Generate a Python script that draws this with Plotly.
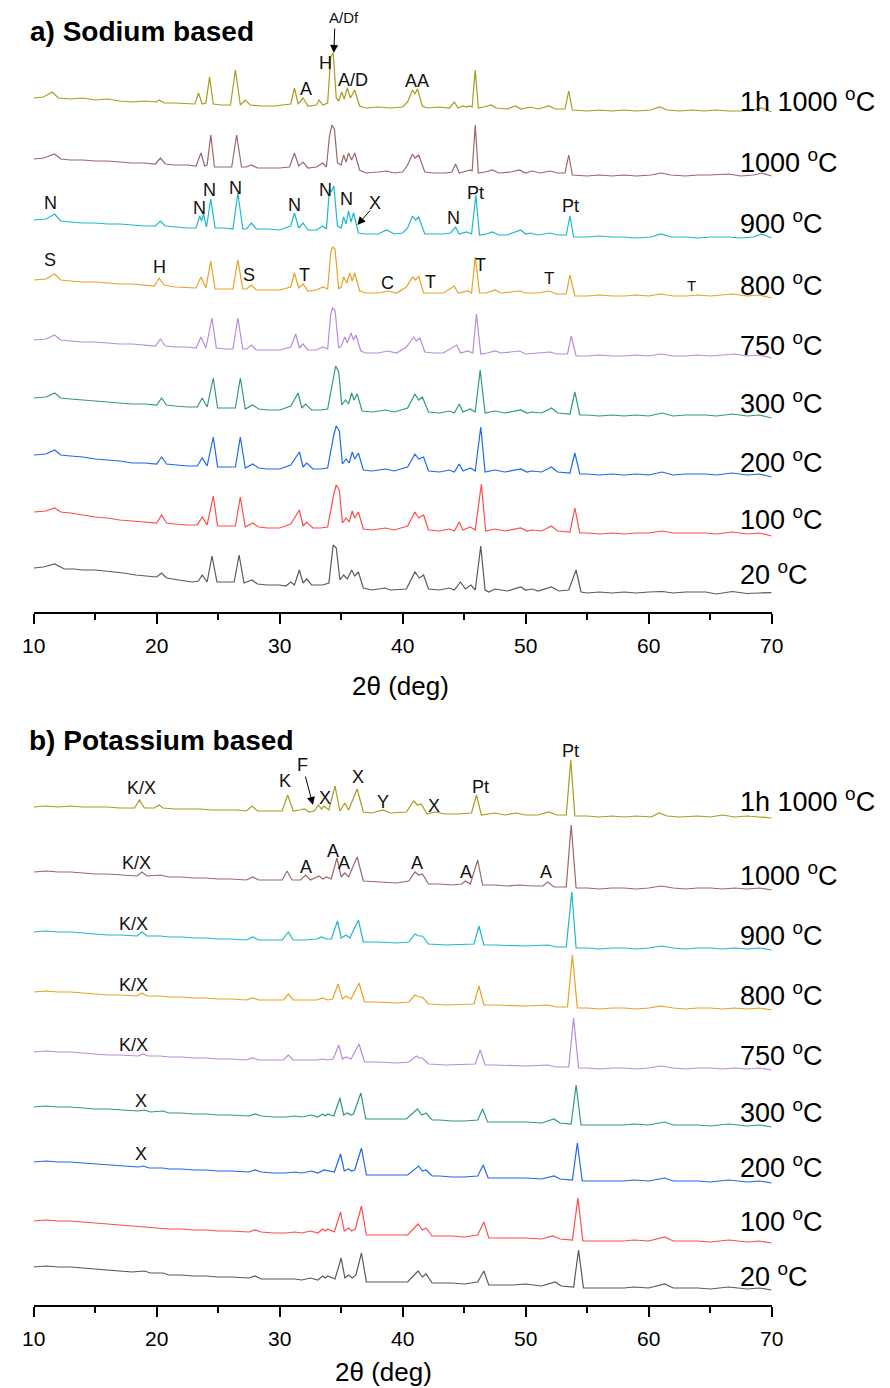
import plotly.graph_objects as go

# ---------------- data: XRD patterns (2theta in deg, intensity in a.u.) ----------------
TEMPS = ["1h 1000", "1000", "900", "800", "750", "300", "200", "100", "20"]

# Panel a) Sodium based
NA_1H = [(10,14),(10.8,15),(11.5,20),(12,14),(13,13),(14,14),(15,12),(16,13),(17,11),(18,10),(19,11),(20.0,10),(20.2,12),(20.6,9),(21.5,9),(22.5,8),(23.1,8),(23.4,19),(23.7,8),(24.0,9),(24.3,35),(24.6,8),(25.2,7),(26.0,7),(26.4,42),(26.8,7),(27.2,12),(27.6,7),(28.5,6),(29.5,6),(30.5,7),(30.9,8),(31.2,24),(31.5,8),(31.9,14),(32.3,6),(33.0,7),(33.2,12),(33.5,7),(33.9,9),(34.15,55),(34.35,59),(34.6,14),(34.8,11),(35.05,20),(35.25,13),(35.5,24),(35.75,14),(36.1,22),(36.5,6),(37,4),(38,5),(39,4),(40,5),(40.4,10),(40.8,22),(41.0,18),(41.2,23),(41.6,6),(42,4),(43,5),(43.8,4),(44.2,10),(44.5,4),(44.9,6),(45.2,5),(45.4,6),(45.65,5),(45.9,42),(46.15,4),(46.6,5),(47.2,7),(47.6,4),(48.5,3),(49.2,6),(49.6,3),(50.4,5),(51,3),(51.9,6),(52.4,3),(53.2,3),(53.5,21),(53.8,2),(55,1),(56,2),(57,1),(58,2),(59,1),(60.2,2),(60.9,5),(61.5,2),(62.5,1),(63.5,2),(64.5,1),(65.5,2),(66.5,1),(67.5,1),(68.5,2),(69.2,4),(70,0)]
NA_1000 = [(10,17),(10.8,18),(11.7,22),(12.2,17),(13,16),(14,16),(15,15),(16,15),(17,14),(18,13),(19,13),(19.9,12),(20.3,18),(20.7,12),(21.5,11),(22.5,11),(23.2,10),(23.6,23),(23.9,10),(24.1,11),(24.4,41),(24.7,9),(25.5,9),(26.1,9),(26.5,41),(26.9,9),(27.3,9),(27.7,11),(28.2,8),(29,8),(30,8),(30.8,9),(31.2,23),(31.55,10),(31.9,14),(32.3,8),(33,9),(33.5,13),(33.8,9),(34.05,40),(34.25,51),(34.45,47),(34.7,13),(35.0,11),(35.2,21),(35.4,14),(35.6,23),(35.85,16),(36.1,23),(36.5,6),(37,3),(38,4),(38.7,5),(39.3,3),(40,4),(40.4,11),(40.8,22),(41.0,18),(41.3,21),(41.8,4),(42.5,3),(43.5,3),(44.0,4),(44.3,12),(44.6,3),(45.2,5),(45.5,6),(45.65,5),(45.9,51),(46.15,3),(46.7,4),(47.3,6),(47.8,3),(48.8,4),(49.5,6),(50,3),(50.5,5),(51.2,3),(52,5),(52.6,3),(53.2,3),(53.5,21),(53.8,1),(55,0),(56,1),(57,0),(58,1),(59,0),(60.2,1),(61,3),(61.8,1),(63,0),(64,1),(65,1),(66.5,2),(67.5,0),(68.5,1),(69.2,3),(70,0)]
NA_900 = [(10,18),(11,19),(11.7,24),(12.2,17),(13,16),(14,15),(15,15),(16,14),(17,14),(18,13),(19,12),(19.9,12),(20.3,17),(20.7,12),(21.5,11),(22.5,10),(23.2,10),(23.5,22),(23.65,17),(23.8,24),(24.05,11),(24.4,39),(24.75,10),(25.5,10),(26.2,9),(26.6,45),(27.0,9),(27.3,9),(27.7,15),(28.1,9),(29,9),(30,8),(30.9,12),(31.2,25),(31.55,10),(31.9,15),(32.3,8),(33,8),(33.5,12),(33.8,9),(34.05,49),(34.2,46),(34.4,52),(34.7,12),(35.0,10),(35.2,21),(35.4,14),(35.6,27),(35.8,16),(36.0,25),(36.4,5),(37,4),(38,4),(38.7,8),(39.3,4),(40,5),(40.4,10),(40.8,22),(41.05,18),(41.3,21),(41.8,4),(42.5,4),(43.2,4),(43.9,5),(44.3,11),(44.6,4),(45.2,6),(45.6,4),(45.95,43),(46.25,3),(46.8,4),(47.3,6),(47.8,3),(48.5,3),(49.6,8),(50.0,4),(50.4,5),(51,3),(52,5),(52.6,3),(53.3,3),(53.6,22),(53.9,1),(55,1),(56,2),(57,1),(58,1),(59,0),(60.2,1),(61,4),(61.8,1),(63,1),(64,0),(65,1),(66.5,1),(67.5,0),(68.5,1),(69.2,4),(70,0)]
NA_800 = [(10,18),(11,19),(11.7,24),(12.2,18),(13,17),(14,16),(15,16),(16,15),(17,14),(18,14),(19,13),(19.8,12),(20.2,20),(20.6,13),(21.5,11),(22.5,10),(23.2,10),(23.6,21),(24.0,10),(24.4,37),(24.75,9),(25.5,9),(26.2,9),(26.6,38),(27.0,9),(27.3,9),(27.7,13),(28.1,8),(29,8),(30,8),(30.9,11),(31.2,25),(31.55,10),(31.9,14),(32.3,7),(33,8),(33.5,11),(33.9,9),(34.15,45),(34.3,51),(34.5,49),(34.8,9),(35.0,11),(35.2,21),(35.45,15),(35.7,25),(35.9,17),(36.1,25),(36.5,7),(37,5),(38,5),(38.8,7),(39.5,5),(40.3,11),(40.8,21),(41.05,18),(41.3,22),(41.7,5),(42.5,5),(43.3,5),(44.2,12),(44.5,5),(45.3,7),(45.6,5),(45.9,41),(46.25,5),(46.8,5),(47.5,8),(48,5),(49.5,7),(50,5),(51,5),(51.9,7),(52.5,4),(53.3,4),(53.6,23),(54.0,2),(55,2),(56,3),(57,2),(58,2),(59,3),(60,2),(61,4),(62,2),(63,2),(64,3),(65,2),(66.8,4),(68,2),(69,3),(70,0)]
NA_750 = [(10,18),(11,19),(11.7,23),(12.2,18),(13,17),(14,16),(15,16),(16,15),(17,14),(18,14),(19,13),(19.9,12),(20.3,19),(20.7,12),(21.5,11),(22.5,11),(23.2,10),(23.6,21),(24.0,10),(24.5,40),(24.85,10),(25.5,9),(26.2,9),(26.6,40),(27.0,9),(27.3,9),(27.7,13),(28.1,8),(29,8),(30,8),(30.9,11),(31.3,24),(31.6,10),(31.9,14),(32.3,8),(33,8),(33.5,11),(33.9,9),(34.15,44),(34.3,50),(34.5,48),(34.8,10),(35.0,12),(35.3,21),(35.5,15),(35.8,25),(36.0,18),(36.2,23),(36.6,7),(37,5),(38,5),(38.8,7),(39.5,5),(40.3,11),(40.9,21),(41.1,17),(41.4,20),(41.8,6),(42.5,5),(43.3,5),(44.4,13),(44.7,5),(45.3,7),(45.7,5),(46.0,44),(46.35,4),(46.9,5),(47.5,7),(48,5),(49.5,7),(50,4),(51,5),(52,6),(52.5,4),(53.4,4),(53.7,22),(54.1,2),(55,2),(56,3),(57,2),(58,2),(59,3),(60,2),(61,4),(62,2),(63,2),(64,3),(65,2),(67,4),(68,2),(69,3),(70,0)]
NA_300 = [(10,20),(11,21),(11.7,25),(12.2,20),(13,19),(14,18),(15,17),(16,16),(17,15),(18,14),(19,14),(20.0,13),(20.4,20),(20.8,13),(21.5,12),(22.5,11),(23.3,11),(23.7,20),(24.1,11),(24.6,40),(24.95,10),(25.5,10),(26.4,10),(26.8,40),(27.2,9),(27.8,13),(28.3,9),(29,8),(30,8),(30.9,12),(31.5,25),(31.8,10),(32.1,14),(32.6,8),(33.3,8),(33.9,9),(34.35,40),(34.55,52),(34.8,46),(35.05,13),(35.35,18),(35.6,14),(35.85,25),(36.05,18),(36.3,24),(36.7,7),(37.5,6),(38.6,8),(39.3,6),(40.4,10),(41.0,24),(41.3,18),(41.6,21),(42.1,6),(43,5),(43.8,7),(44.2,5),(44.6,14),(44.9,6),(45.5,9),(45.9,6),(46.3,48),(46.7,5),(47.5,7),(48.3,5),(49.6,8),(50.1,5),(50.5,6),(51.3,5),(52.1,10),(52.6,5),(53.6,4),(54.0,26),(54.4,3),(55,3),(56,2),(57,3),(58,2),(59,3),(60,2),(61.1,5),(62,2),(63,3),(64.6,3),(65.5,2),(66.8,4),(68,2),(69,3),(70,0)]
NA_200 = [(10,22),(11,23),(11.7,27),(12.2,22),(13,21),(14,20),(15,18),(16,17),(17,16),(18,14),(19,14),(20.0,13),(20.4,20),(20.8,13),(21.5,12),(22.5,11),(23.3,11),(23.7,19),(24.1,11),(24.6,40),(24.95,10),(25.5,10),(26.4,10),(26.8,40),(27.2,9),(27.8,13),(28.3,9),(29,8),(30,8),(30.9,12),(31.6,25),(31.9,10),(32.2,14),(32.7,8),(33.3,8),(33.9,9),(34.4,42),(34.6,51),(34.85,46),(35.1,13),(35.4,18),(35.65,14),(35.9,25),(36.1,18),(36.4,24),(36.8,7),(37.5,6),(38.6,8),(39.3,6),(40.4,10),(41.0,23),(41.3,18),(41.7,20),(42.1,6),(43,5),(43.8,7),(44.2,5),(44.6,13),(44.9,6),(45.5,9),(45.9,6),(46.35,50),(46.7,5),(47.5,7),(48.3,5),(49.6,8),(50.1,5),(50.5,6),(51.3,5),(52.1,10),(52.6,5),(53.6,4),(54.0,24),(54.4,3),(55,3),(56,2),(57,3),(58,2),(59,3),(60,2),(61.1,5),(62,2),(63,3),(64.6,3),(65.5,2),(66.8,4),(68,2),(69,3),(70,0)]
NA_100 = [(10,24),(11,25),(11.7,28),(12.2,24),(13,23),(14,21),(15,19),(16,18),(17,16),(18,15),(19,14),(20.0,13),(20.4,21),(20.8,13),(21.5,12),(22.5,11),(23.3,11),(23.7,19),(24.1,11),(24.6,40),(24.95,10),(25.5,10),(26.4,10),(26.8,39),(27.2,9),(27.8,13),(28.3,9),(29,8),(30,8),(30.9,12),(31.6,26),(31.9,10),(32.2,14),(32.7,8),(33.3,8),(33.9,9),(34.4,42),(34.6,51),(34.85,46),(35.1,13),(35.4,18),(35.65,14),(35.9,25),(36.1,18),(36.4,24),(36.8,7),(37.5,6),(38.6,8),(39.3,6),(40.4,10),(41.0,24),(41.3,18),(41.7,21),(42.1,6),(43,5),(43.8,7),(44.2,5),(44.6,14),(44.9,6),(45.5,9),(45.9,6),(46.4,52),(46.75,5),(47.5,7),(48.3,5),(49.6,8),(50.1,5),(50.5,6),(51.3,5),(52.1,10),(52.6,5),(53.6,4),(54.0,28),(54.4,3),(55,3),(56,2),(57,3),(58,2),(59,3),(60,3),(61.1,5),(62,3),(63,3),(64.6,3),(65.5,2),(66.8,4),(68,2),(69,3),(70,0)]
NA_20 = [(10,26),(10.8,27),(11.7,30),(12.5,25),(13.3,25),(14,24),(15,24),(16,23),(17.3,21),(18.3,19),(19.2,18),(20.0,17),(20.4,21),(20.8,16),(21.8,14),(22.9,12),(23.4,13),(23.7,19),(24.1,12),(24.5,38),(24.9,12),(25.4,12),(26.3,12),(26.7,39),(27.1,11),(27.75,14),(28.2,10),(29,9),(30,9),(30.5,8),(30.9,12),(31.2,9),(31.6,24),(31.9,11),(32.2,15),(32.6,9),(33.5,9),(34.0,11),(34.35,49),(34.6,46),(34.9,14),(35.2,19),(35.5,15),(35.85,24),(36.1,18),(36.4,22),(36.8,6),(37.5,4),(38.55,6),(39,4),(40.3,5),(41.0,22),(41.35,16),(41.7,19),(42.1,5),(43,4),(43.8,6),(44.2,4),(44.7,12),(45.1,5),(45.55,9),(45.9,4),(46.35,48),(46.7,4),(47,2),(47.5,5),(48.5,3),(49.6,7),(50,4),(50.55,5),(51,3),(52.1,7),(52.7,3),(53.5,4),(54.1,24),(54.5,2),(55,1),(56,2),(57,1),(58,2),(59,1),(60,2),(61.1,2.5),(62,1),(63,2),(64.65,2),(65.5,0),(66.8,2.5),(68,0.5),(69,1),(70,1.3)]

# Panel b) Potassium based
KA_1H = [(10,11),(11,12),(12,11),(13,12),(14,11),(15,11),(16,11),(17,10),(18.2,10),(18.6,18),(19.0,10),(19.8,10),(20.2,13),(20.5,10),(21.5,9),(22.5,9),(23.5,9),(24.5,8),(25.5,8),(26.5,8),(27.3,7),(27.75,12),(28.2,7),(29,7),(30.2,7),(30.65,23),(31.1,7),(31.6,8),(32.0,9),(32.4,6),(32.8,7),(33.15,13),(33.4,9),(33.6,12),(34.0,8),(34.5,32),(34.9,7),(35.3,15),(35.6,8),(36.3,29),(36.8,6),(37.5,5),(38.4,8),(39,5),(40.3,6),(40.9,17),(41.2,13),(41.5,14),(42.0,4),(42.6,6),(43.5,4),(44.5,4),(45.6,5),(46.0,23),(46.4,3),(47.5,5),(48.3,3),(49.2,5),(50,3),(51,3),(51.9,6),(52.5,3),(53.3,3),(53.67,58),(54.0,2),(55,2),(56,1),(57,2),(58,1),(59,2),(60.2,1),(60.85,5),(61.5,2),(62.5,1),(64,2),(65,1),(66,3),(67,1),(68,2),(69,1),(70,0)]
KA_1000 = [(10,18),(11,19),(12,18),(13,18),(14,17),(15,16),(16,16),(17,15),(18.4,14),(18.8,18),(19.2,14),(20.3,15),(21,13),(22,13),(23,12),(24,12),(25,11),(26,11),(27.3,10),(27.8,13),(28.3,10),(29.5,10),(30.2,10),(30.6,19),(31.0,10),(31.7,10),(32.1,15),(32.5,10),(33.2,14),(33.5,11),(33.8,13),(34.2,11),(34.65,32),(35.0,13),(35.3,17),(35.6,13),(36.3,33),(36.8,9),(38,8),(39.5,7),(40.5,9),(41.0,18),(41.3,15),(41.6,16),(42.1,6),(43,6),(44,5),(44.8,6),(45.1,9),(45.5,6),(46.1,30),(46.5,5),(47.5,5),(48.5,4),(49.5,5),(50.5,4),(51.4,4),(51.8,8),(52.3,3),(53.3,3),(53.7,65),(54.1,2),(55,2),(56,1),(57,2),(58,2),(59,1),(60,2),(61,4),(62,2),(63,1),(64,2),(65,2),(66,1),(67,2),(68,1),(69,2),(70,0)]
KA_900 = [(10,18),(11,19),(12,18),(13,18),(14,17),(15,16),(16,15),(17,15),(18.4,14),(18.8,18),(19.2,14),(20.3,14),(21,13),(22,13),(23,12),(24,12),(25,11),(26,11),(27.3,10),(27.8,13),(28.3,10),(29.5,10),(30.2,10),(30.7,18),(31.1,10),(32,10),(33.0,11),(33.4,13),(33.8,11),(34.2,11),(34.7,29),(35.0,12),(35.4,15),(35.7,12),(36.4,30),(36.8,8),(38,8),(39.5,7),(40.5,8),(41.0,16),(41.3,14),(41.6,14),(42.1,6),(43.5,5),(45.2,6),(45.8,6),(46.2,24),(46.6,5),(47.5,5),(49,4),(50,4),(51.8,5),(52.5,3),(53.3,3),(53.75,58),(54.1,2),(55,2),(56,1),(57,2),(58,2),(59,1),(60,2),(61,4),(62,2),(63,1),(64,2),(65,2),(66,1),(67,2),(68,1),(69,2),(70,0)]
KA_800 = [(10,18),(11,19),(12,18),(13,18),(14,17),(15,16),(16,15),(17,15),(18.4,14),(18.8,17),(19.2,14),(20.3,14),(21,13),(22,13),(23,12),(24,12),(25,11),(26,11),(27.3,10),(27.8,12),(28.3,10),(29.5,10),(30.3,10),(30.7,16),(31.1,10),(32,10),(33.0,10),(33.5,12),(33.9,10),(34.3,11),(34.75,26),(35.1,11),(35.4,14),(35.8,11),(36.45,27),(36.9,8),(38,8),(39.5,7),(40.5,8),(41.0,15),(41.3,13),(41.6,13),(42.1,6),(43.5,5),(45.2,6),(45.8,6),(46.2,24),(46.6,5),(47.5,5),(49,4),(50,4),(51.8,5),(52.5,3),(53.4,3),(53.8,55),(54.2,2),(55,2),(56,1),(57,2),(58,2),(59,1),(60,2),(61,4),(62,2),(63,1),(64,2),(65,2),(66,1),(67,2),(68,1),(69,2),(70,0)]
KA_750 = [(10,18),(11,19),(12,18),(13,18),(14,17),(15,16),(16,15),(17,15),(18.5,14),(18.9,16),(19.3,14),(20.3,14),(21,13),(22,13),(23,12),(24,12),(25,11),(26,11),(27.3,10),(27.8,12),(28.3,10),(29.5,10),(30.3,10),(30.7,15),(31.1,10),(32,10),(33.0,10),(33.5,11),(33.9,10),(34.35,11),(34.8,25),(35.1,11),(35.4,13),(35.8,11),(36.45,26),(36.9,8),(38,8),(39.5,7),(40.5,8),(41.1,14),(41.35,12),(41.6,12),(42.1,6),(43.5,5),(45.2,6),(45.9,6),(46.3,20),(46.7,5),(47.5,5),(49,4),(50,4),(51.8,5),(52.5,3),(53.5,3),(53.9,52),(54.3,2),(55,2),(56,1),(57,2),(58,2),(59,1),(60,2),(61,4),(62,2),(63,1),(64,2),(65,2),(66,1),(67,2),(68,1),(69,2),(70,0)]
KA_300 = [(10,20),(11,21),(12,20),(13,20),(14,19),(15,18),(16,18),(17,17),(18.5,16),(19,17),(19.5,15),(20.5,16),(21,14),(22,14),(23,13),(24,13),(25,12),(26,12),(27.5,11),(28,13),(28.5,11),(29.5,10),(30.5,10),(31.2,11),(31.8,10),(32.6,12),(33.1,10),(33.5,13),(33.7,11),(33.9,13),(34.4,11),(34.9,29),(35.2,12),(35.5,14),(35.8,12),(36.0,13),(36.6,34),(37.0,8),(38,8),(39,8),(40.3,8),(41.2,18),(41.55,12),(41.9,14),(42.4,7),(43,7),(44,6),(45,6),(46.1,7),(46.5,18),(46.9,5),(48,5),(49,5),(50,5),(51.3,4),(52.3,8),(52.8,4),(53.7,3),(54.1,42),(54.5,2),(55,2),(56,2),(57,2),(58,2),(58.8,3),(60,2),(61.3,5),(62,2),(63,2),(64,2),(65,1),(66.5,3),(68,1),(69,2),(70,0)]
KA_200 = [(10,21),(11,22),(12,21),(13,21),(14,20),(15,19),(16,18),(17,17),(18.5,16),(18.9,17),(19.4,15),(20.5,15),(21,14),(22,14),(23,13),(24,13),(25,12),(26,12),(27.5,11),(28,13),(28.5,11),(29.5,10),(30.5,10),(31.2,11),(31.8,10),(32.6,12),(33.1,10),(33.6,13),(34.45,11),(34.95,29),(35.25,12),(35.6,14),(35.85,12),(36.1,13),(36.65,35),(37.05,8),(38,8),(39,8),(40.4,8),(41.3,17),(41.6,12),(41.9,13),(42.4,7),(43,7),(44,6),(45,6),(46.1,7),(46.55,18),(46.95,5),(48,5),(49,5),(50,5),(51.3,4),(52.3,7),(52.8,4),(53.8,3),(54.2,40),(54.6,2),(55,2),(56,2),(57,2),(58,2),(58.8,3),(60,2),(61.3,5),(62,2),(63,2),(64,2),(65,1),(66.5,3),(68,1),(69,2),(70,0)]
KA_100 = [(10,22),(11,23),(12,22),(13,22),(14,21),(15,20),(16,19),(17,18),(18,17),(19,16),(20,15),(21,14),(22,14),(23,13),(24,13),(25,12),(26,12),(27.5,11),(28,13),(28.5,11),(29.5,10),(30.5,10),(31.2,11),(31.8,10),(32.5,12),(33.1,10),(33.5,14),(33.7,12),(33.9,14),(34.45,11),(34.95,31),(35.25,12),(35.6,15),(35.85,12),(36.15,14),(36.65,37),(37.05,8),(38,8),(38.8,8),(40.4,8),(41.25,19),(41.6,13),(41.9,15),(42.4,7),(43,7),(44,7),(45,6),(46.1,8),(46.6,21),(47.0,5),(48,5),(49,5),(50,5),(51.3,4),(52.2,7),(52.8,4),(53.8,3),(54.25,45),(54.65,2),(55,2),(56,2),(57,2),(58,2),(58.8,3),(60,2),(61.3,6),(62,2),(63,2),(64,2),(65,1),(66.5,3),(68,1),(69,2),(70,0)]
KA_20 = [(10,23),(11,24),(12,23),(13,23),(14,22),(15,21),(16,20),(17,19),(18,18),(19,19),(19.5,17),(20.5,17),(21,15),(22,15),(23,14),(24,14),(25,13),(26,13),(27.5,12),(28,14),(28.5,11),(29.5,11),(30.5,11),(31.2,11),(31.8,10),(32.5,12),(33.1,10),(33.5,14),(33.7,12),(33.9,14),(34.5,11),(35.0,32),(35.3,12),(35.6,15),(35.9,12),(36.2,15),(36.65,37),(37.05,8),(38,8),(39,8),(40.4,8),(41.25,19),(41.6,13),(41.9,16),(42.4,7),(43,7),(44,7),(45,6),(46.1,8),(46.6,19),(47.0,5),(48,5),(49,5),(50,6),(51.3,4),(52.4,8),(52.9,4),(53.9,3),(54.3,40),(54.7,2),(55,2),(56,2),(57,2),(58,2),(58.8,3),(60,2),(61.3,6),(62,2),(63,2),(64,2),(65,1),(66.5,3),(68,1),(69,2),(70,0)]

PATTERNS_A = [NA_1H, NA_1000, NA_900, NA_800, NA_750, NA_300, NA_200, NA_100, NA_20]
PATTERNS_B = [KA_1H, KA_1000, KA_900, KA_800, KA_750, KA_300, KA_200, KA_100, KA_20]

# phase labels: (text, 2theta, vertical pixel position, font size)
PHASES_A = [("A/Df", 35.21, 17, 15), ("H", 33.71, 63, 18), ("A/D", 35.93, 80, 18), ("AA", 41.18, 81, 18), ("A", 32.10, 89, 18),
            ("N", 11.40, 203, 18), ("N", 23.48, 208, 18), ("N", 24.32, 190, 18), ("N", 26.43, 188, 18), ("N", 31.18, 205, 18),
            ("N", 33.69, 190, 18), ("N", 35.40, 199, 18), ("X", 37.77, 203, 18), ("N", 44.15, 218, 18), ("Pt", 45.95, 193, 18),
            ("Pt", 53.67, 206, 18), ("S", 11.34, 260, 18), ("H", 20.24, 267, 18), ("S", 27.48, 275, 18), ("T", 32.05, 275, 18),
            ("C", 38.77, 283, 18), ("T", 42.25, 282, 18), ("T", 46.34, 265, 18), ("T", 51.88, 278, 17), ("T", 63.48, 285, 15)]
ARROWS_A = [(34.40, 53, 1, -26), (36.32, 225, 14, -16)]
PHASES_B = [("K/X", 18.73, 788, 18), ("K", 30.44, 781, 18), ("F", 31.89, 765, 18), ("X", 33.69, 798, 18), ("X", 36.40, 777, 18),
            ("Y", 38.43, 802, 18), ("X", 42.52, 806, 18), ("Pt", 46.34, 787, 18), ("Pt", 53.65, 751, 18),
            ("K/X", 18.39, 863, 18), ("A", 32.10, 867, 18), ("A", 34.34, 851, 18), ("A", 35.27, 863, 18), ("A", 41.15, 863, 18),
            ("A", 45.16, 872, 18), ("A", 51.67, 872, 18),
            ("K/X", 18.13, 924, 18), ("K/X", 18.13, 985, 18), ("K/X", 18.13, 1045, 18), ("X", 18.76, 1101, 18), ("X", 18.76, 1154, 18)]
ARROWS_B = [(32.71, 805, -8, -30)]

# ---------------- styling / layout ----------------
W, H = 890, 1388
COLORS = ["#a99c1e", "#9b6868", "#1cb8cf", "#e9a126", "#b98be0", "#2f9e6c", "#1f68f0", "#ff4d4d", "#5a5a5a"]
OFFS_A = [500, 436, 374, 314, 254, 194, 135, 76, 18]
OFFS_B = [487, 415, 355, 295, 235, 178, 122, 62, 15]
LBL_A = [100, 161, 222, 284, 344, 402, 461, 518, 573]
LBL_B = [800, 874, 934, 994, 1054, 1111, 1166, 1220, 1275]
AXIS_A, AXIS_B, TOP_B = 612, 1305, 700
FONT = "Arial, Liberation Sans, sans-serif"

fig = go.Figure()
for pats, offs, xa, ya in [(PATTERNS_A, OFFS_A, "x", "y"), (PATTERNS_B, OFFS_B, "x2", "y2")]:
    for pts, off, col in zip(pats, offs, COLORS):
        fig.add_trace(go.Scatter(x=[p[0] for p in pts], y=[p[1] + off for p in pts], mode="lines",
                                 line=dict(color=col, width=1.2), xaxis=xa, yaxis=ya,
                                 showlegend=False, hoverinfo="skip"))

def xpx_to_deg(px):
    return 10 + (px - 22.3) / 12.64

ann = []
for lbl_y, axis_px, xr, yr in [(LBL_A, AXIS_A, "x", "y"), (LBL_B, AXIS_B, "x2", "y2")]:
    for t, ly in zip(TEMPS, lbl_y):
        ann.append(dict(x=xpx_to_deg(746), y=axis_px - ly, xref=xr, yref=yr, text=f"{t} <sup>o</sup>C",
                        showarrow=False, xanchor="left", yanchor="middle", font=dict(size=27, color="black", family=FONT)))
for phases, axis_px, xr, yr in [(PHASES_A, AXIS_A, "x", "y"), (PHASES_B, AXIS_B, "x2", "y2")]:
    for txt, xd, py, fs in phases:
        ann.append(dict(x=xd, y=axis_px - py, xref=xr, yref=yr, text=txt, showarrow=False,
                        xanchor="center", yanchor="middle", font=dict(size=fs, color="#111", family=FONT)))
for arrows, axis_px, xr, yr in [(ARROWS_A, AXIS_A, "x", "y"), (ARROWS_B, AXIS_B, "x2", "y2")]:
    for xd, py, ax, ay in arrows:
        ann.append(dict(x=xd, y=axis_px - py, xref=xr, yref=yr, text="", showarrow=True, ax=ax, ay=ay,
                        arrowhead=2, arrowsize=1.6, arrowwidth=1, arrowcolor="black", standoff=0))

# panel titles and axis titles
ann.append(dict(x=16 / W, y=1 - 32 / H, xref="paper", yref="paper", text="<b>a) Sodium based</b>", showarrow=False,
                xanchor="left", yanchor="middle", font=dict(size=28, color="black", family=FONT)))
ann.append(dict(x=15 / W, y=1 - 740 / H, xref="paper", yref="paper", text="<b>b) Potassium based</b>", showarrow=False,
                xanchor="left", yanchor="middle", font=dict(size=28, color="black", family=FONT)))
ann.append(dict(x=399 / W, y=1 - 686 / H, xref="paper", yref="paper", text="2θ (deg)", showarrow=False,
                xanchor="center", yanchor="middle", font=dict(size=26, color="black", family=FONT)))
ann.append(dict(x=382 / W, y=1 - 1372 / H, xref="paper", yref="paper", text="2θ (deg)", showarrow=False,
                xanchor="center", yanchor="middle", font=dict(size=26, color="black", family=FONT)))

xdom = [22.3 / W, 780.7 / W]
xax = dict(domain=xdom, range=[10, 70], showline=True, linecolor="black", linewidth=2, ticks="outside",
           ticklen=10, tickwidth=2, tickcolor="black", tick0=10, dtick=10, showgrid=False, zeroline=False,
           tickfont=dict(size=21, color="black", family=FONT), ticklabelstandoff=4,
           minor=dict(ticks="outside", ticklen=6, tickwidth=2, tickcolor="black", dtick=5, tick0=10, showgrid=False))

fig.update_layout(
    width=W, height=H, margin=dict(l=0, r=0, t=0, b=0),
    paper_bgcolor="white", plot_bgcolor="white",
    xaxis=dict(**xax, anchor="y"),
    yaxis=dict(domain=[1 - AXIS_A / H, 1], range=[0, AXIS_A], visible=False, fixedrange=True),
    xaxis2=dict(**xax, anchor="y2"),
    yaxis2=dict(domain=[1 - AXIS_B / H, 1 - TOP_B / H], range=[0, AXIS_B - TOP_B], visible=False, fixedrange=True),
    annotations=ann,
)
fig.write_html("out.html")
